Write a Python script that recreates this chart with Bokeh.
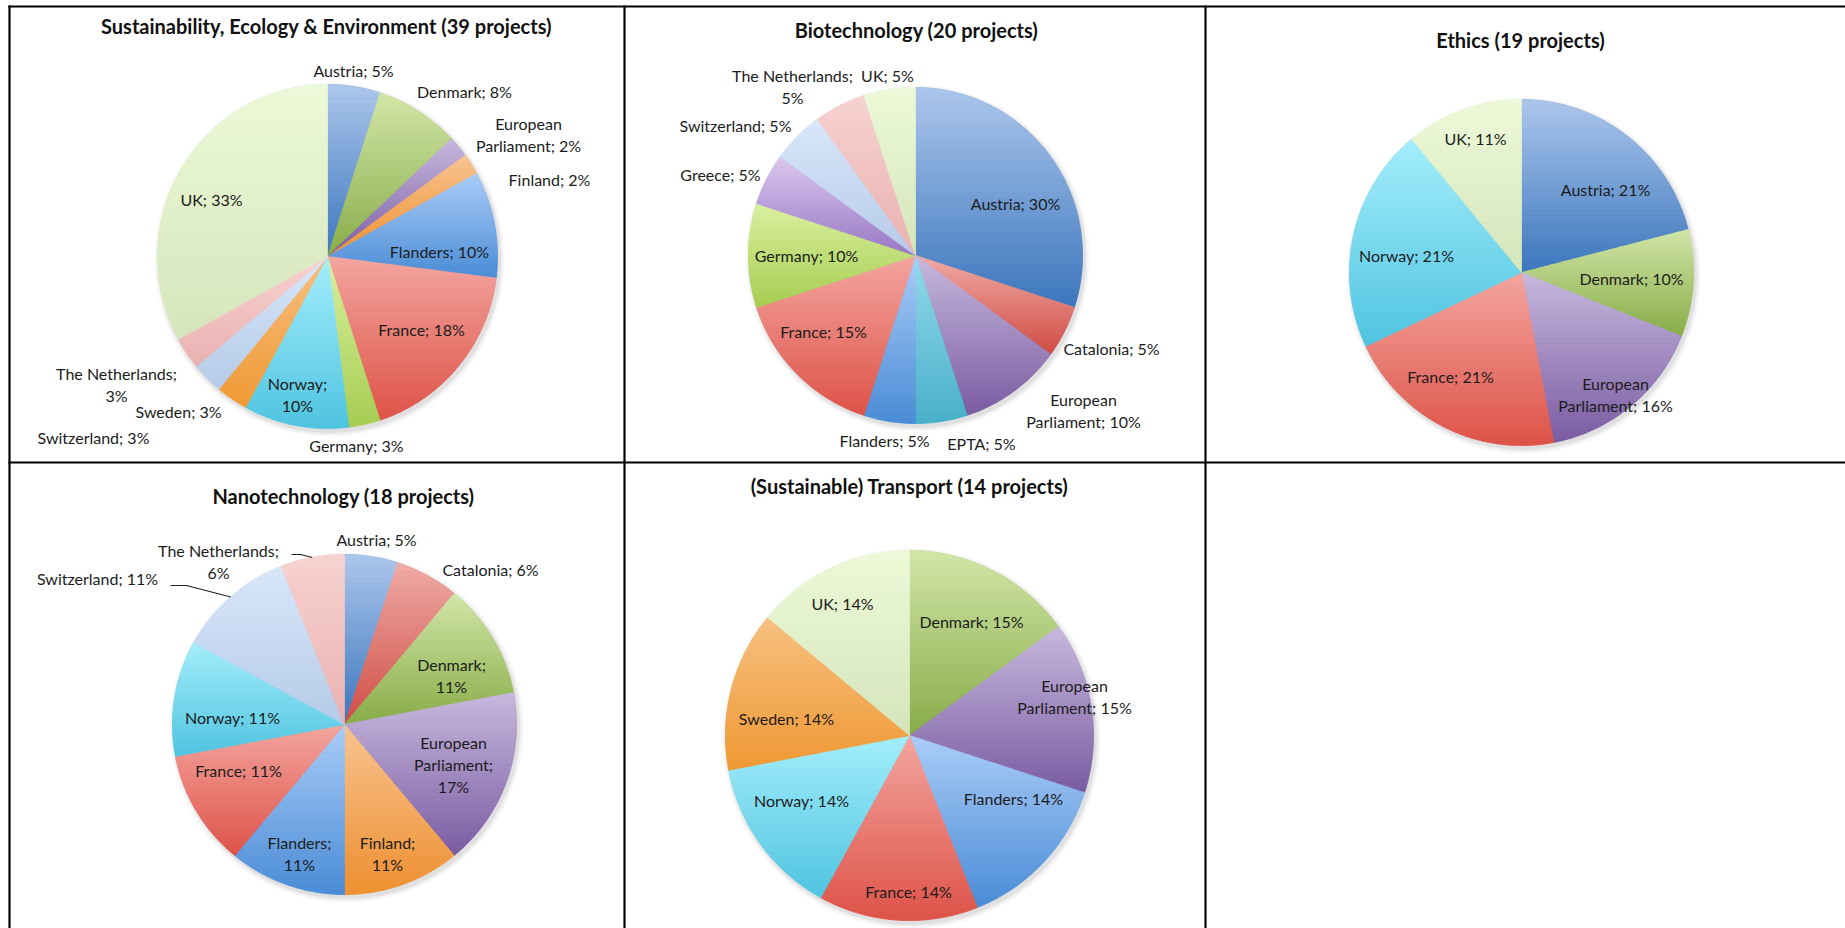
import numpy as np
from bokeh.plotting import figure
from bokeh.models import Range1d, ColumnDataSource
from bokeh.embed import file_html
from bokeh.resources import INLINE
from bokeh.core.properties import value

# ------------------------------------------------------------------ data
sust_title = "Sustainability, Ecology & Environment (39 projects)"
sust_cats = ["Austria", "Denmark", "European Parliament", "Finland", "Flanders", "France",
             "Germany", "Norway", "Sweden", "Switzerland", "The Netherlands", "UK"]
sust_pct = [5, 8, 2, 2, 10, 18, 3, 10, 3, 3, 3, 33]

bio_title = "Biotechnology (20 projects)"
bio_cats = ["Austria", "Catalonia", "European Parliament", "EPTA", "Flanders", "France",
            "Germany", "Greece", "Switzerland", "The Netherlands", "UK"]
bio_pct = [30, 5, 10, 5, 5, 15, 10, 5, 5, 5, 5]

eth_title = "Ethics (19 projects)"
eth_cats = ["Austria", "Denmark", "European Parliament", "France", "Norway", "UK"]
eth_pct = [21, 10, 16, 21, 21, 11]

nano_title = "Nanotechnology (18 projects)"
nano_cats = ["Austria", "Catalonia", "Denmark", "European Parliament", "Finland", "Flanders",
             "France", "Norway", "Switzerland", "The Netherlands"]
nano_pct = [5, 6, 11, 17, 11, 11, 11, 11, 11, 6]

trans_title = "(Sustainable) Transport (14 projects)"
trans_cats = ["Denmark", "European Parliament", "Flanders", "France", "Norway", "Sweden", "UK"]
trans_pct = [15, 15, 14, 14, 14, 14, 14]

# ------------------------------------------------------------------ styles (top, bottom gradient colours)
COLORS = {
    "Austria": ("#adc7ec", "#3b76bd"),
    "Denmark": ("#d2e6a8", "#88ac48"),
    "European Parliament": ("#c8b9de", "#7a5ca2"),
    "Finland": ("#f8c491", "#ee9030"),
    "Flanders": ("#abcdf8", "#4a8cd6"),
    "France": ("#f3a6a0", "#de5348"),
    "Germany": ("#daf0a0", "#a6cd52"),
    "Greece": ("#dcc8f0", "#9878c4"),
    "Norway": ("#a4eefb", "#50c4e0"),
    "Sweden": ("#f7c081", "#ef9934"),
    "Switzerland": ("#d8e7fa", "#b6cbe8"),
    "The Netherlands": ("#f7d2d1", "#e9b2b1"),
    "UK": ("#edf9d8", "#d5e5bb"),
    "Catalonia": ("#f0aca7", "#cf4c44"),
    "EPTA": ("#94daeb", "#48b0ca"),
}

# label layout: (x, y of first line, wrap mode) -- n: one line, s: break after ';',
# w: break after first word, ws: both
LAYOUT = [
    dict(cats=sust_cats, pct=sust_pct, title=sust_title, cx=327, cy=256, rx=170, ry=172,
         tx=326, ty=25,
         labels=[(353, 70, "n"), (464, 91, "n"), (528, 123, "w"), (549, 179, "n"),
                 (439, 251, "n"), (421, 329, "n"), (356, 445, "n"), (297, 383, "s"),
                 (178, 411, "n"), (93, 437, "n"), (116, 373, "s"), (211, 199, "n")]),
    dict(cats=bio_cats, pct=bio_pct, title=bio_title, cx=915, cy=255, rx=167, ry=168,
         tx=916, ty=29,
         labels=[(1015, 203, "n"), (1111, 348, "n"), (1083, 399, "w"), (981, 443, "n"),
                 (884, 440, "n"), (823, 331, "n"), (806, 255, "n"), (720, 174, "n"),
                 (735, 125, "n"), (792, 75, "s"), (887, 75, "n")]),
    dict(cats=eth_cats, pct=eth_pct, title=eth_title, cx=1521, cy=272, rx=172, ry=173,
         tx=1520, ty=39,
         labels=[(1605, 189, "n"), (1631, 278, "n"), (1615, 383, "w"), (1450, 376, "n"),
                 (1406, 255, "n"), (1475, 138, "n")]),
    dict(cats=nano_cats, pct=nano_pct, title=nano_title, cx=344, cy=724, rx=172, ry=170,
         tx=343, ty=495,
         labels=[(376, 539, "n"), (490, 569, "n"), (451, 664, "s"), (453, 742, "ws"),
                 (387, 842, "s"), (299, 842, "s"), (238, 770, "n"), (232, 717, "n"),
                 (97, 578, "n"), (218, 550, "s")],
         leaders={"The Netherlands": (291, 554, 300), "Switzerland": (170, 585, 186)}),
    dict(cats=trans_cats, pct=trans_pct, title=trans_title, cx=909, cy=735, rx=184, ry=185,
         tx=909, ty=485,
         labels=[(971, 621, "n"), (1074, 685, "w"), (1013, 798, "n"), (908, 891, "n"),
                 (801, 800, "n"), (786, 718, "n"), (842, 603, "n")]),
]

LINE_H = 22
FONT = "Lato"
TEXT_COLOR = "#1c1c1c"
LABEL_SIZE = "16px"
TITLE_SIZE = "20px"


def hex2rgb(h):
    h = h.lstrip("#")
    return np.array([int(h[i:i + 2], 16) for i in (0, 2, 4)], dtype=float)


def mix(c0, c1, t):
    c = hex2rgb(c0) * (1 - t) + hex2rgb(c1) * t
    return "#%02x%02x%02x" % tuple(int(round(v)) for v in c)


def clip_band(pts, y0, y1):
    def clip(pts, keep, yc):
        out = []
        n = len(pts)
        for i in range(n):
            cur, prev = pts[i], pts[i - 1]
            def inter(a, b):
                t = (yc - a[1]) / (b[1] - a[1])
                return (a[0] + t * (b[0] - a[0]), yc)
            if keep(cur):
                if not keep(prev):
                    out.append(inter(prev, cur))
                out.append(cur)
            elif keep(prev):
                out.append(inter(prev, cur))
        return out
    pts = clip(pts, lambda p: p[1] >= y0, y0)
    if len(pts) < 3:
        return None
    pts = clip(pts, lambda p: p[1] <= y1, y1)
    if len(pts) < 3:
        return None
    return pts


def label_lines(name, v, mode):
    pct = f"{v}%"
    if mode == "n":
        return [f"{name}; {pct}"]
    if mode == "s":
        return [f"{name};", pct]
    first, rest = name.split(" ", 1)
    if mode == "w":
        return [first, f"{rest}; {pct}"]
    return [first, f"{rest};", pct]


W, H = 1845, 928
p = figure(width=W, height=H, x_range=Range1d(0, W), y_range=Range1d(H, 0),
           output_backend="svg", toolbar_location=None,
           x_axis_location=None, y_axis_location=None, min_border=0)
p.outline_line_color = None
p.grid.grid_line_color = None
p.background_fill_color = "white"
p.border_fill_color = "white"

# table borders
p.segment(x0=[9, 624, 1205, 8, 8], y0=[5, 5, 5, 6, 462],
          x1=[9, 624, 1205, W, W], y1=[H, H, H, 6, 462],
          line_color="black", line_width=2.2)

N_BANDS = 36
for pie in LAYOUT:
    cx, cy, rx, ry = pie["cx"], pie["cy"], pie["rx"], pie["ry"]
    # soft shadow
    for k, a in ((10, 0.03), (6, 0.04), (3, 0.05)):
        p.ellipse(x=cx + 2, y=cy + 3, width=2 * rx + k, height=2 * ry + k,
                  fill_color="black", fill_alpha=a, line_color=None)
    vals = np.array(pie["pct"], dtype=float)
    fr = np.concatenate([[0], np.cumsum(vals) / vals.sum()])
    bx, by, bc = [], [], []
    sx, sy, sc = [], [], []
    for i, cat in enumerate(pie["cats"]):
        a0, a1 = fr[i] * 2 * np.pi, fr[i + 1] * 2 * np.pi
        n = max(4, int((a1 - a0) / (np.pi / 180)))
        th = np.linspace(a0, a1, n)
        xs = np.concatenate([[cx], cx + rx * np.sin(th)])
        ys = np.concatenate([[cy], cy - ry * np.cos(th)])
        top, bot = COLORS[cat]
        sx.append(list(xs)); sy.append(list(ys)); sc.append(mix(top, bot, 0.5))
        pts = list(zip(xs, ys))
        ymin, ymax = ys.min(), ys.max()
        edges = np.linspace(ymin, ymax, N_BANDS + 1)
        for j in range(N_BANDS):
            cl = clip_band(pts, edges[j], edges[j + 1])
            if cl is None:
                continue
            bx.append([q[0] for q in cl]); by.append([q[1] for q in cl])
            bc.append(mix(top, bot, (j + 0.5) / N_BANDS))
    p.patches(xs="xs", ys="ys", source=ColumnDataSource(dict(xs=sx, ys=sy, c=sc)),
              fill_color="c", line_color="c", line_width=0.5)
    p.patches(xs="xs", ys="ys", source=ColumnDataSource(dict(xs=bx, ys=by, c=bc)),
              fill_color="c", line_color="c", line_width=0.7)

    # leader lines (from label to slice mid-angle on the rim)
    for cat, (lx, ly, kx) in pie.get("leaders", {}).items():
        i = pie["cats"].index(cat)
        am = (fr[i] + fr[i + 1]) / 2 * 2 * np.pi
        ex, ey = cx + rx * np.sin(am), cy - ry * np.cos(am)
        p.line(x=[lx, kx, ex], y=[ly, ly, ey], line_color="#222222", line_width=1.2)

    # labels
    tx, ty, tt = [], [], []
    for cat, v, (lx, ly, mode) in zip(pie["cats"], pie["pct"], pie["labels"]):
        for k, line in enumerate(label_lines(cat, v, mode)):
            tx.append(lx); ty.append(ly + k * LINE_H); tt.append(line)
    p.text(x=tx, y=ty, text=tt, text_align="center", text_baseline="middle",
           text_font=value(FONT), text_font_size=LABEL_SIZE, text_color=TEXT_COLOR)

    p.text(x=[pie["tx"]], y=[pie["ty"]], text=[pie["title"]], text_align="center",
           text_baseline="middle", text_font=value(FONT), text_font_size=TITLE_SIZE,
           text_font_style="bold", text_color="#111111")

open("out.html", "w").write(file_html(p, INLINE))
